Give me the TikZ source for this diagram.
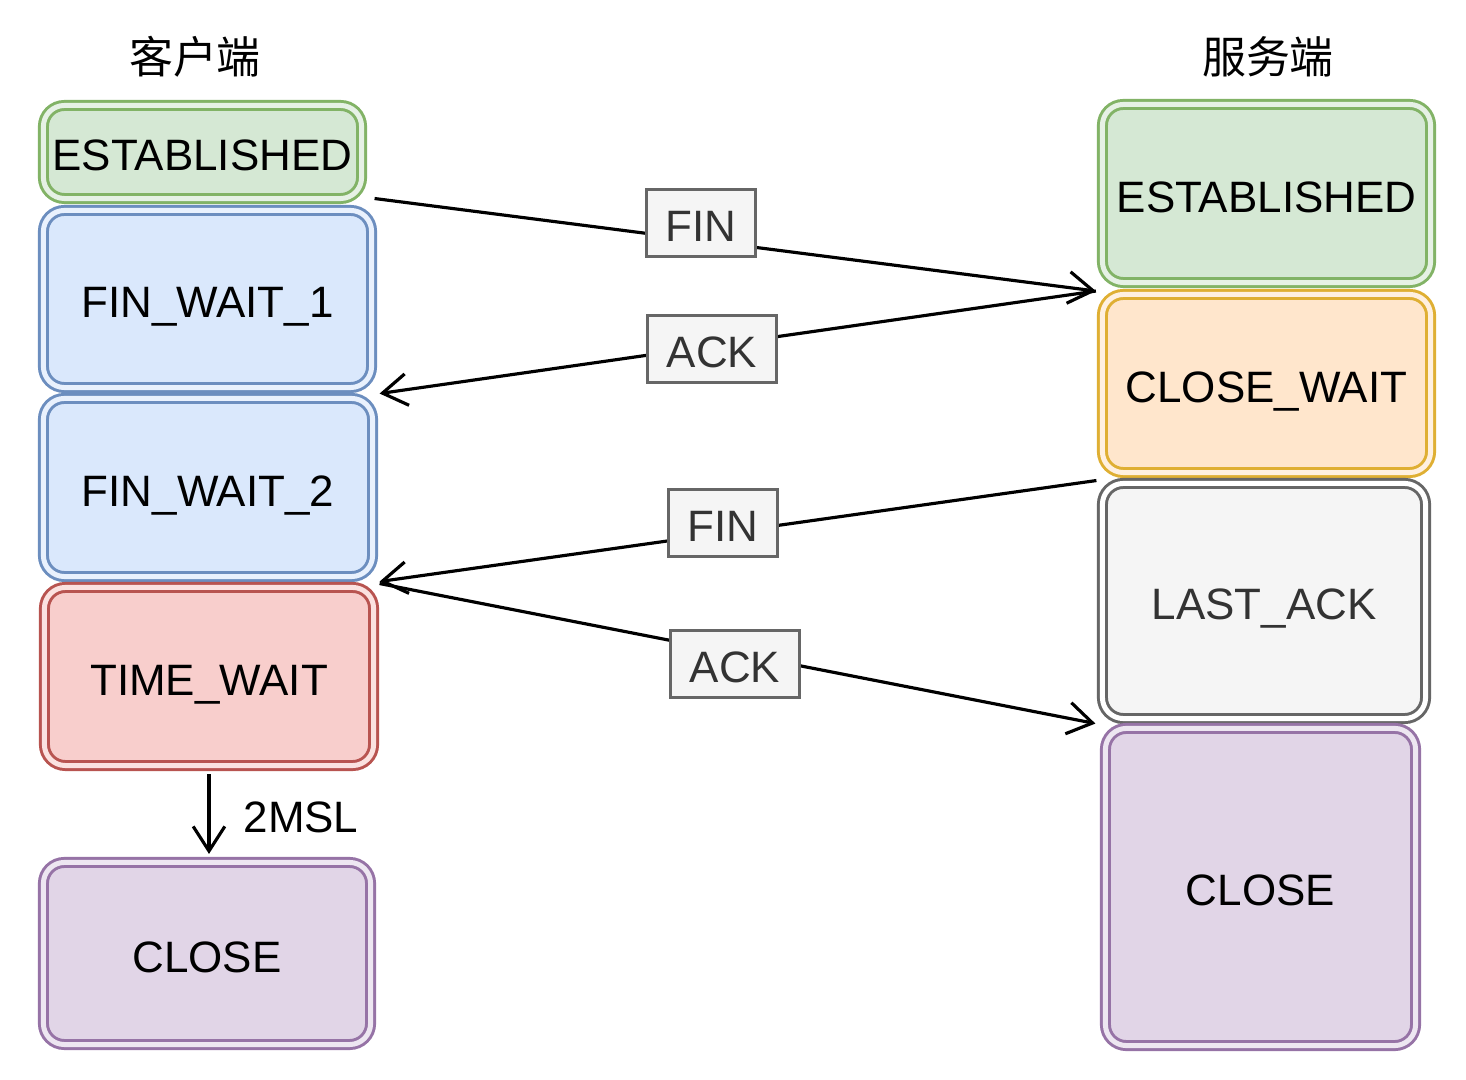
\documentclass[tikz,border=0pt]{standalone}
\usepackage{fontspec}
\setmainfont{Liberation Sans}
\newfontfamily\cjkfont{Noto Sans CJK SC}
\usetikzlibrary{arrows.meta}

\definecolor{greenfill}{HTML}{D5E8D4}
\definecolor{greenline}{HTML}{82B366}
\definecolor{bluefill}{HTML}{DAE8FC}
\definecolor{blueline}{HTML}{6C8EBF}
\definecolor{orangefill}{HTML}{FFE6CC}
\definecolor{orangeline}{HTML}{D79B00}
\definecolor{grayfill}{HTML}{F5F5F5}
\definecolor{grayline}{HTML}{666666}
\definecolor{graytext}{HTML}{333333}
\definecolor{redfill}{HTML}{F8CECC}
\definecolor{redline}{HTML}{B85450}
\definecolor{purplefill}{HTML}{E1D5E7}
\definecolor{purpleline}{HTML}{9673A6}

\begin{document}
\begin{tikzpicture}[x=0.01cm,y=-0.01cm,
		font=\fontsize{12.5}{15}\selectfont,
		state/.style={rounded corners=0.21cm, line width=0.85pt,
			double distance=0.05cm, inner sep=0pt, text height=10.6pt, text depth=0pt},
		green/.style={state, draw=greenline, fill=greenfill, double=greenfill!60!white},
		blue/.style={state, draw=blueline, fill=bluefill, double=bluefill!60!white},
		orange/.style={state, draw=orangeline!80!white, fill=orangefill, double=orangefill!60!white},
		gray/.style={state, draw=grayline, fill=grayfill, double=white, text=graytext},
		red/.style={state, draw=redline, fill=redfill, double=redfill!60!white},
		purple/.style={state, draw=purpleline, fill=purplefill, double=purplefill!60!white},
		msg/.style={draw=grayline, fill=grayfill, line width=0.85pt, text=graytext,
			minimum height=0.66cm, inner xsep=0.19cm, text height=10.6pt, text depth=0pt},
		link/.style={line width=0.9pt, -{Straight Barb[length=7pt,width=9pt]}}]
		\useasboundingbox (0,0) rectangle (1466,1080);

		% titles
		\node[font=\cjkfont\fontsize{12.5}{15}\selectfont] (client) at (195,57) {客户端};
		\node[font=\cjkfont\fontsize{12.5}{15}\selectfont] (server) at (1268,57) {服务端};

		% client side
		\node[green, minimum width=3.18cm, minimum height=0.93cm] (estC) at (202.5,152) {ESTABLISHED};
		\node[blue, minimum width=3.28cm, minimum height=1.77cm] (fw1) at (207.5,299) {FIN\_WAIT\_1};
		\node[blue, minimum width=3.29cm, minimum height=1.78cm] (fw2) at (208,487.5) {FIN\_WAIT\_2};
		\node[red, minimum width=3.29cm, minimum height=1.78cm] (tw) at (209,676.5) {TIME\_WAIT};
		\node[purple, minimum width=3.27cm, minimum height=1.82cm] (clC) at (207,953.5) {CLOSE};

		% server side
		\node[green, minimum width=3.28cm, minimum height=1.78cm] (estS) at (1266.5,193.5) {ESTABLISHED};
		\node[orange, minimum width=3.28cm, minimum height=1.78cm] (cw) at (1266.5,383.5) {CLOSE\_WAIT};
		\node[gray, minimum width=3.23cm, minimum height=2.35cm] (la) at (1264,601) {LAST\_ACK};
		\node[purple, minimum width=3.10cm, minimum height=3.17cm] (clS) at (1260.5,887) {CLOSE};

		% messages
		\draw[link] ([shift={(11.5,-1.5)}]estC.south east) -- ([shift={(-5,7)}]estS.south west);
		\draw[link] ([shift={(-5,7)}]estS.south west) -- ([shift={(6.5,4.5)}]fw1.south east);
		\draw[link] ([shift={(-4.5,6.5)}]cw.south west) -- ([shift={(5.5,3.5)}]fw2.south east);
		\draw[link] ([shift={(5.5,5.5)}]fw2.south east) -- ([shift={(-5.5,3.5)}]la.south west);
		\draw[link] ([yshift=-0.07cm]tw.south) -- ([yshift=0.07cm]tw.south |- clC.north);

		\node[msg] (fin1) at (701,223) {FIN};
		\node[msg] (ack1) at (712,349) {ACK};
		\node[msg] (fin2) at (723,523) {FIN};
		\node[msg] (ack2) at (735,664) {ACK};
		\node (msl) at (301,817) {2MSL};
	\end{tikzpicture}
\end{document}
